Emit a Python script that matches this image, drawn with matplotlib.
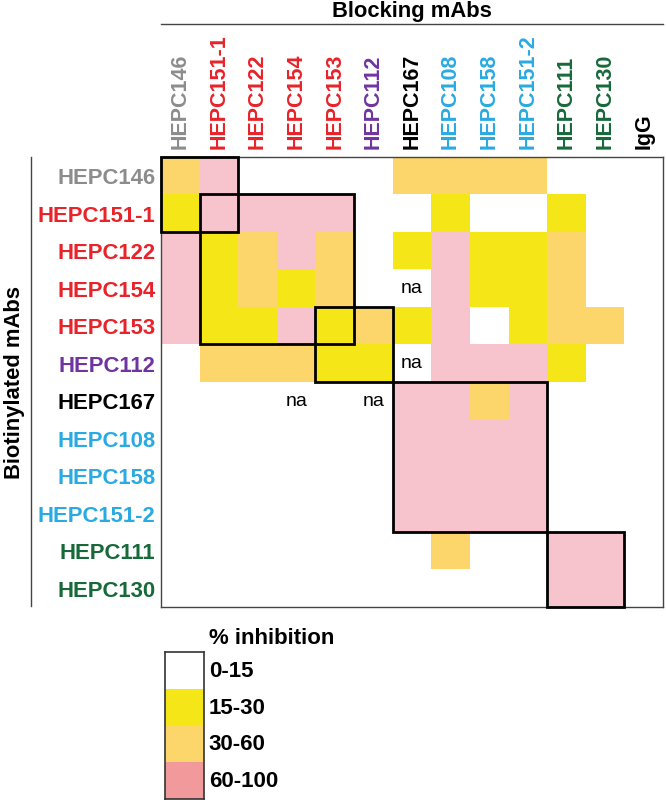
import matplotlib
matplotlib.use('Agg')
import matplotlib.pyplot as plt
from matplotlib.colors import ListedColormap, BoundaryNorm
from matplotlib.patches import Rectangle
from matplotlib.lines import Line2D
import numpy as np

plt.rcParams['font.family'] = ['Liberation Sans', 'DejaVu Sans']

# antibodies (rows = biotinylated, columns = blocking)
row_labels = ['HEPC146', 'HEPC151-1', 'HEPC122', 'HEPC154', 'HEPC153', 'HEPC112',
              'HEPC167', 'HEPC108', 'HEPC158', 'HEPC151-2', 'HEPC111', 'HEPC130']
col_labels = row_labels[:-2] + ['HEPC111', 'HEPC130', 'IgG']
row_colors = ['#8C8C8C', '#E8232A', '#E8232A', '#E8232A', '#E8232A', '#7034A0',
              '#000000', '#2AAAE2', '#2AAAE2', '#2AAAE2', '#17693A', '#17693A']
col_colors = row_colors + ['#000000']

# inhibition class: 0 = 0-15, 1 = 15-30, 2 = 30-60, 3 = 60-100
inhibition = [
    [2, 3, 0, 0, 0, 0, 2, 2, 2, 2, 0, 0, 0],
    [1, 3, 3, 3, 3, 0, 0, 1, 0, 0, 1, 0, 0],
    [3, 1, 2, 3, 2, 0, 1, 3, 1, 1, 2, 0, 0],
    [3, 1, 2, 1, 2, 0, 0, 3, 1, 1, 2, 0, 0],
    [3, 1, 1, 3, 1, 2, 1, 3, 0, 1, 2, 2, 0],
    [0, 2, 2, 2, 1, 1, 0, 3, 3, 3, 1, 0, 0],
    [0, 0, 0, 0, 0, 0, 3, 3, 2, 3, 0, 0, 0],
    [0, 0, 0, 0, 0, 0, 3, 3, 3, 3, 0, 0, 0],
    [0, 0, 0, 0, 0, 0, 3, 3, 3, 3, 0, 0, 0],
    [0, 0, 0, 0, 0, 0, 3, 3, 3, 3, 0, 0, 0],
    [0, 0, 0, 0, 0, 0, 0, 2, 0, 0, 3, 3, 0],
    [0, 0, 0, 0, 0, 0, 0, 0, 0, 0, 3, 3, 0],
]
# not assessed cells (row, col)
na_cells = [(3, 6), (5, 6), (6, 3), (6, 5)]
# competition groups (first row, first col, size)
groups = [(0, 0, 2), (1, 1, 4), (4, 4, 2), (6, 6, 4), (10, 10, 2)]

legend_labels = ['0-15', '15-30', '30-60', '60-100']
cell_colors = ['#FFFFFF', '#F5E617', '#FDD66B', '#F7C4CD']
legend_colors = ['#FFFFFF', '#F5E617', '#FDD66B', '#F29A9B']

W, H = 666, 803
fig = plt.figure(figsize=(W / 100, H / 100), dpi=100)

def px_axes(x0, y0, x1, y1):
    return fig.add_axes([x0 / W, 1 - y1 / H, (x1 - x0) / W, (y1 - y0) / H])

ax = px_axes(161, 157.5, 663, 607.5)
data = np.array(inhibition)
cmap = ListedColormap(cell_colors)
norm = BoundaryNorm([-0.5, 0.5, 1.5, 2.5, 3.5], cmap.N)
ax.pcolormesh(np.arange(data.shape[1] + 1), np.arange(data.shape[0] + 1), data,
              cmap=cmap, norm=norm)
ax.set_xlim(0, data.shape[1])
ax.set_ylim(data.shape[0], 0)

for r, c in na_cells:
    ax.text(c + 0.5, r + 0.5, 'na', ha='center', va='center', fontsize=14)

for r, c, n in groups:
    ax.add_patch(Rectangle((c, r), n, n, fill=False, edgecolor='black',
                           linewidth=2, zorder=5, clip_on=False))

for s in ax.spines.values():
    s.set_edgecolor('#444444')
    s.set_linewidth(1)

ax.xaxis.tick_top()
ax.set_xticks(np.arange(len(col_labels)) + 0.5)
ax.set_xticklabels(col_labels, rotation=90, fontsize=15.5, fontweight='bold')
ax.set_yticks(np.arange(len(row_labels)) + 0.5)
ax.set_yticklabels(row_labels, fontsize=15.9, fontweight='bold')
ax.tick_params(axis='x', length=0, pad=6)
ax.tick_params(axis='y', length=0, pad=4)
for t, c in zip(ax.get_xticklabels(), col_colors):
    t.set_color(c)
for t, c in zip(ax.get_yticklabels(), row_colors):
    t.set_color(c)

# axis headers with rules
fig.text(412 / W, 1 - 12 / H, 'Blocking mAbs', ha='center', va='center',
         fontsize=15.8, fontweight='bold')
fig.add_artist(Line2D([161 / W, 663 / W], [1 - 25 / H, 1 - 25 / H],
                      color='#444444', linewidth=1))
fig.text(15 / W, 1 - 382.5 / H, 'Biotinylated mAbs', ha='center', va='center',
         rotation=90, fontsize=15.8, fontweight='bold')
fig.add_artist(Line2D([31 / W, 31 / W], [1 - 158 / H, 1 - 607 / H],
                      color='#444444', linewidth=1))

# legend
lax = px_axes(165, 653, 204, 800)
lax.set_xlim(0, 1)
lax.set_ylim(len(legend_labels), 0)
for i, col in enumerate(legend_colors):
    lax.add_patch(Rectangle((0, i), 1, 1, facecolor=col, edgecolor='none'))
lax.set_xticks([])
lax.set_yticks([])
for s in lax.spines.values():
    s.set_edgecolor('#333333')
    s.set_linewidth(1.2)
for i, lab in enumerate(legend_labels):
    lax.text(1.12, i + 0.5, lab, ha='left', va='center', fontsize=16,
             fontweight='bold', transform=lax.transData)
fig.text(209 / W, 1 - 639 / H, '% inhibition', ha='left', va='center',
         fontsize=16, fontweight='bold')

fig.savefig('out.png', dpi=100)
